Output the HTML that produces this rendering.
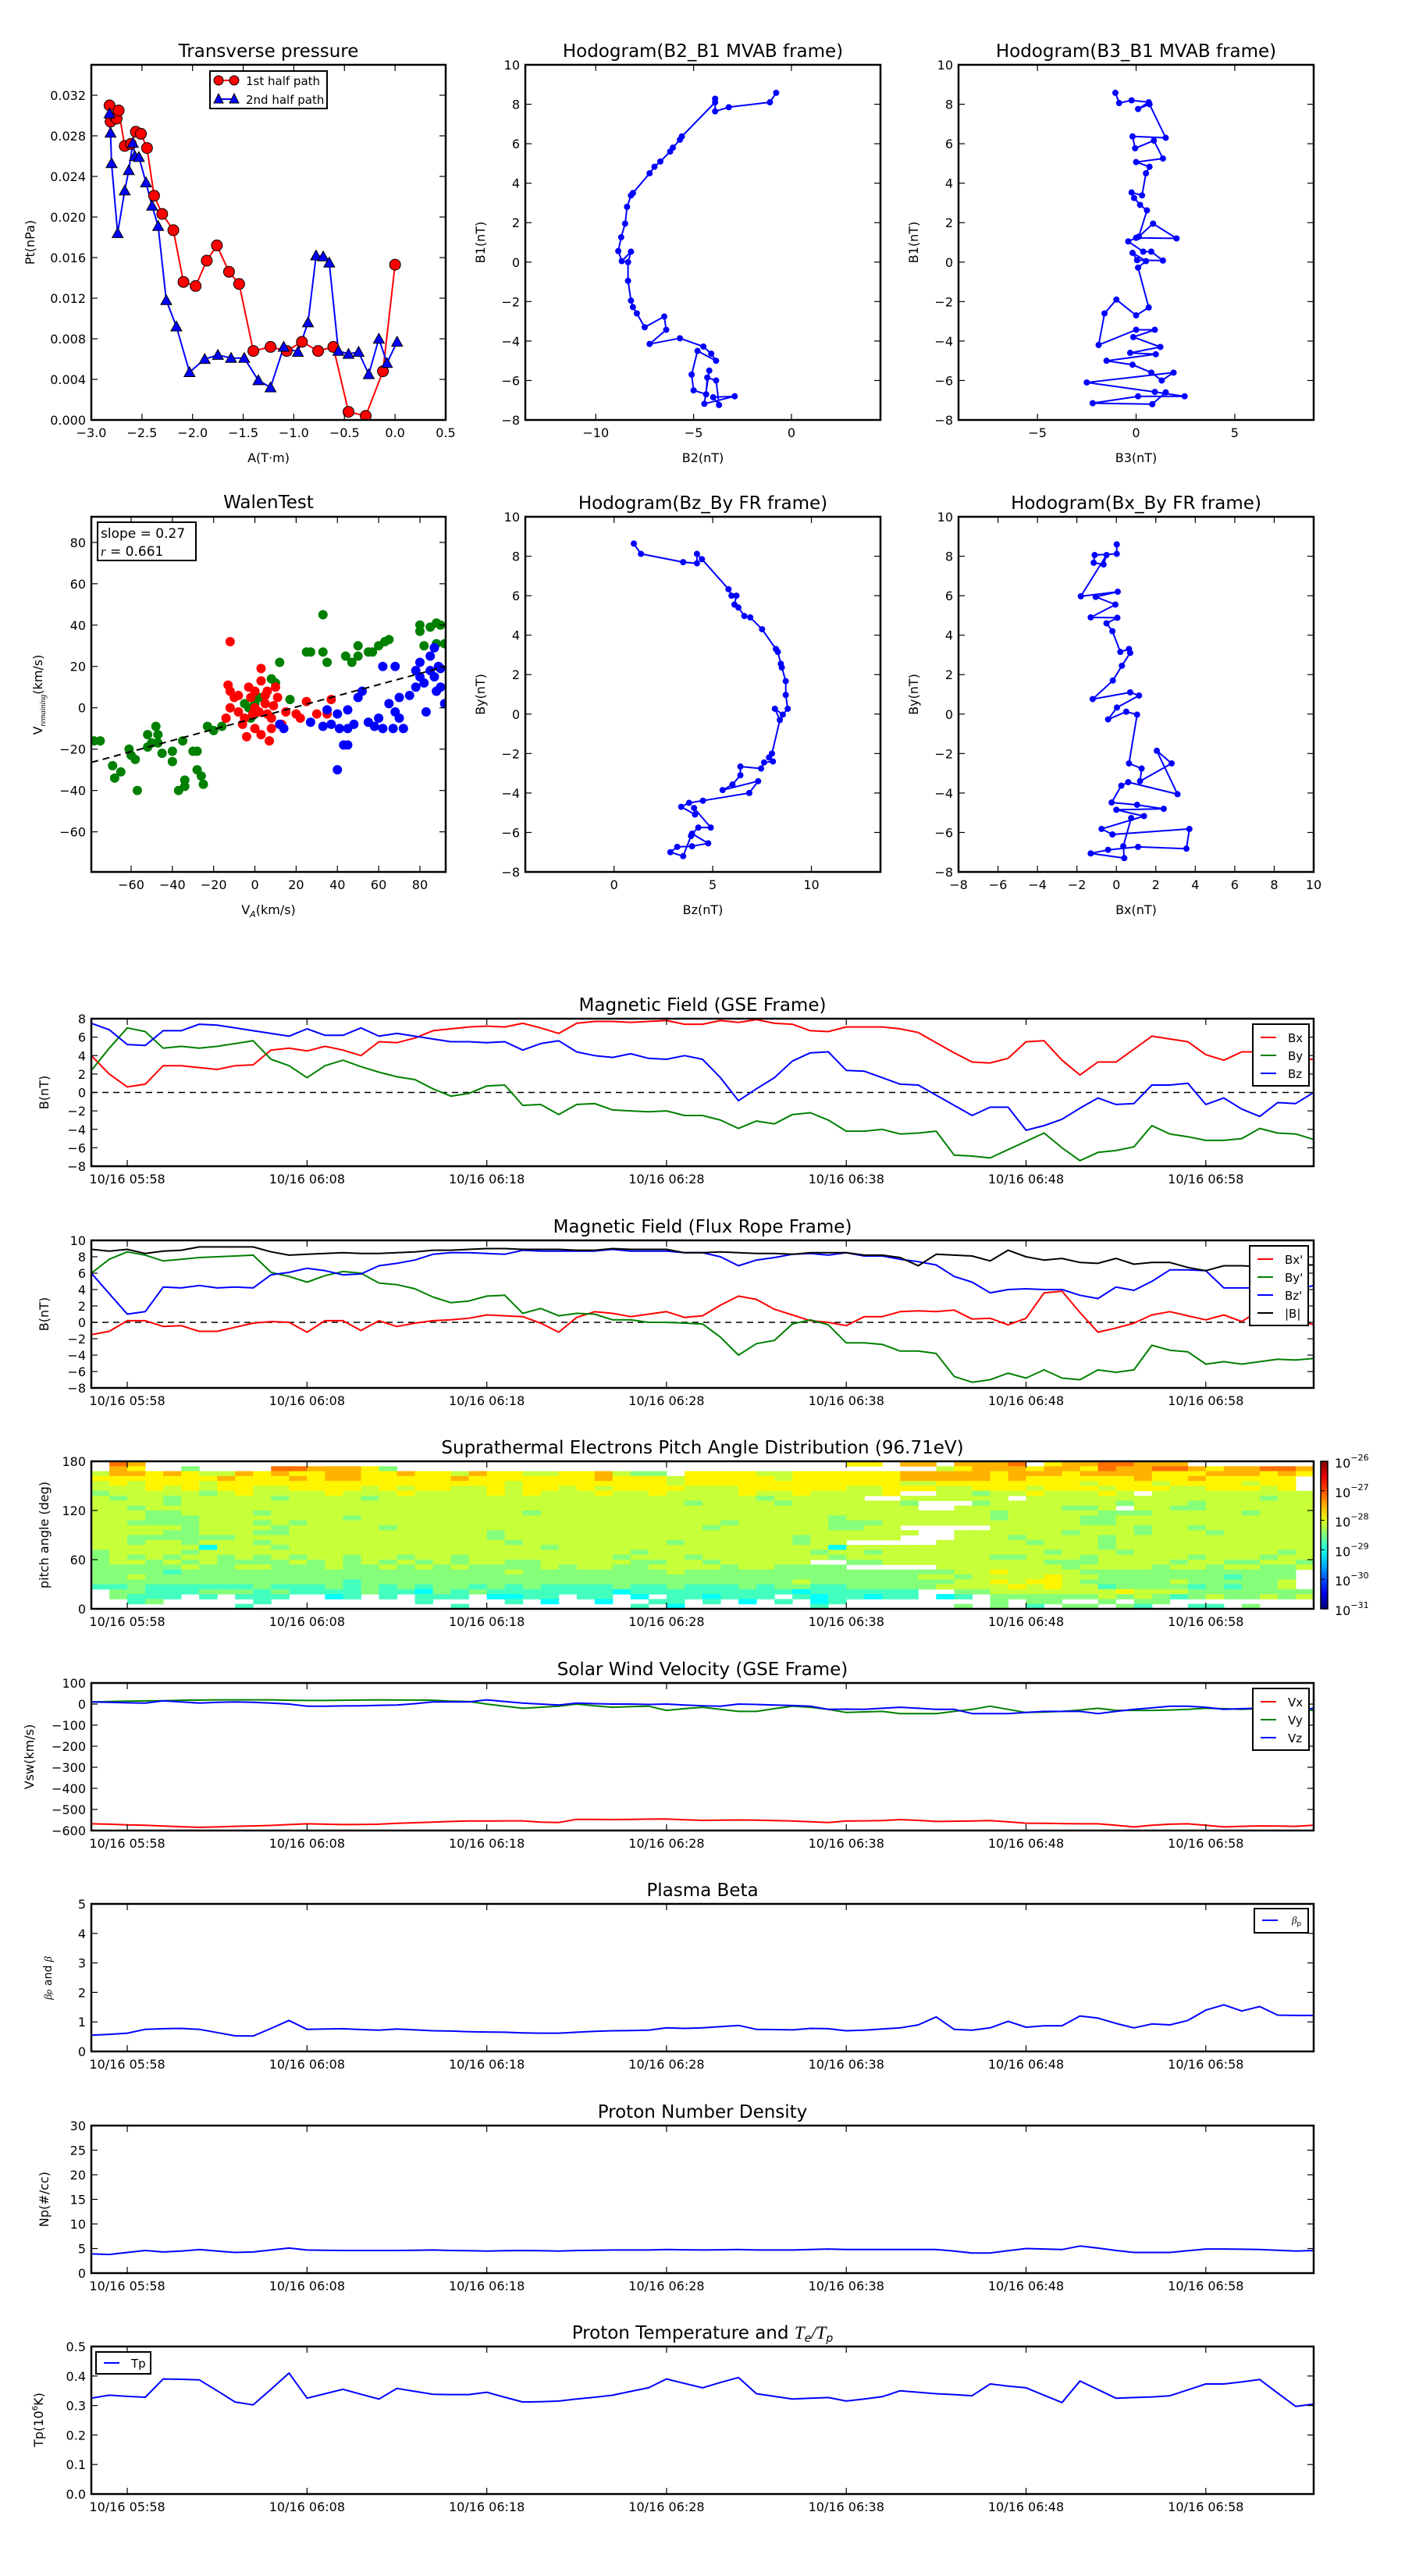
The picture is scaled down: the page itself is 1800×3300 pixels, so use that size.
<!DOCTYPE html>
<html><head><meta charset="utf-8"><title>Flux rope analysis</title>
<style>
html,body{margin:0;padding:0;background:#fff;}
svg{display:block;font-family:"DejaVu Sans","Liberation Sans",sans-serif;}
</style></head>
<body>
<svg id="fig" width="1800" height="3300" viewBox="0 0 1800 3300"></svg>
<script>
// ---------------- DATA ----------------
// Transverse pressure
const p1A = [-2.82,-2.81,-2.77,-2.75,-2.73,-2.67,-2.61,-2.56,-2.51,-2.45,-2.38,-2.30,-2.19,-2.09,-1.97,-1.86,-1.76,-1.64,-1.54,-1.40,-1.23,-1.07,-0.92,-0.76,-0.61,-0.46,-0.29,-0.12,0.00];
const p1P = [0.0310,0.0294,0.0299,0.0297,0.0305,0.0270,0.0272,0.0284,0.0282,0.0268,0.0221,0.0203,0.0187,0.0136,0.0132,0.0157,0.0172,0.0146,0.0134,0.0068,0.0072,0.0068,0.0077,0.0068,0.0072,0.0008,0.0004,0.0048,0.0153];
const p2A = [-2.82,-2.81,-2.80,-2.74,-2.67,-2.63,-2.59,-2.57,-2.53,-2.46,-2.40,-2.34,-2.26,-2.16,-2.03,-1.88,-1.75,-1.62,-1.49,-1.35,-1.23,-1.10,-0.96,-0.86,-0.78,-0.71,-0.65,-0.56,-0.46,-0.36,-0.26,-0.16,-0.08,0.02];
const p2P = [0.0302,0.0283,0.0253,0.0184,0.0226,0.0246,0.0273,0.0260,0.0259,0.0234,0.0211,0.0191,0.0118,0.0092,0.0047,0.0060,0.0064,0.0061,0.0061,0.0039,0.0032,0.0072,0.0067,0.0096,0.0162,0.0161,0.0155,0.0068,0.0065,0.0067,0.0045,0.0080,0.0056,0.0077];

// Hodogram B2_B1
const h1x = [-0.78,-1.1,-3.2,-3.9,-3.9,-3.9,-5.6,-5.7,-6.06,-6.2,-6.7,-7.0,-7.25,-8.1,-8.2,-8.4,-8.5,-8.7,-8.85,-8.67,-8.2,-8.35,-8.35,-8.2,-8.1,-7.9,-7.5,-6.5,-6.4,-7.25,-5.7,-4.5,-4.1,-3.85,-4.8,-5.1,-5.0,-4.36,-4.3,-3.85,-3.7,-4.0,-2.9,-4.45,-4.2];
const h1y = [8.58,8.1,7.85,7.64,8.28,8.1,6.37,6.2,5.8,5.6,5.1,4.83,4.5,3.5,3.38,2.8,1.95,1.26,0.56,0.05,0.53,0.0,-0.95,-1.95,-2.28,-2.6,-3.3,-2.76,-3.43,-4.15,-3.86,-4.28,-4.64,-5.0,-4.5,-5.7,-6.5,-6.7,-5.85,-6.0,-7.24,-6.85,-6.8,-7.18,-5.5];
// Hodogram B3_B1
const h2x = [-1.05,-0.86,-0.23,0.64,0.1,0.68,1.5,-0.18,-0.05,0.9,1.36,0,0.68,0.5,0.3,-0.23,-0.1,0.2,0.55,0.14,0.86,2.05,0,-0.4,0.36,0.77,1.36,0.05,-0.18,0.5,0.1,0.64,0,-1.0,-1.6,-1.9,0,0.95,-0.14,1.23,-0.3,1.0,-1.5,-0.18,0.77,1.3,1.9,-2.5,0.95,2.46,0.1,-2.2,0.82,1.5];
const h2y = [8.58,8.06,8.2,8.1,7.76,8.0,6.3,6.37,5.77,6.16,5.25,5.07,4.83,4.5,3.38,3.53,3.25,2.9,2.62,1.29,1.95,1.2,1.23,1.05,0.53,0.53,0.08,0.1,0.47,0.05,-0.28,-2.3,-2.7,-1.9,-2.6,-4.2,-3.43,-3.43,-3.8,-4.3,-4.6,-4.67,-5.0,-5.2,-5.6,-6.0,-5.6,-6.1,-6.58,-6.8,-6.8,-7.15,-7.2,-6.6];
// Hodogram Bz_By (FR)
const h3x = [1.0,1.36,3.5,4.2,4.2,4.45,5.8,5.95,6.2,6.1,6.3,6.6,6.9,7.5,8.2,8.3,8.45,8.5,8.7,8.7,8.8,8.55,8.15,8.4,8.0,7.85,8.05,7.6,7.45,6.4,6.4,6.0,5.5,7.3,6.85,4.5,3.8,3.4,4.1,4.05,4.9,4.27,3.95,4.77,3.95,3.2,2.85,3.5,3.9];
const h3y = [8.64,8.12,7.7,7.64,8.12,7.85,6.33,6.0,6.0,5.55,5.4,4.97,4.9,4.3,3.3,3.15,2.55,2.36,1.67,0.97,0.27,-0.03,0.27,-0.3,-2.0,-2.2,-2.4,-2.45,-2.76,-2.66,-3.1,-3.57,-3.85,-3.4,-4.0,-4.39,-4.5,-4.7,-5.09,-4.76,-5.75,-5.75,-6.06,-6.55,-6.7,-6.73,-7.0,-7.2,-6.18];
// Hodogram Bx_By (FR)
const h4x = [0.02,0.02,-1.1,-1.15,-0.65,-0.5,-1.8,0.07,-1.05,-0.05,-1.3,0.05,-0.5,-0.2,0.2,0.64,0.7,0.28,-0.18,-1.2,0.7,1.15,0.03,-0.42,0.5,1.05,0.64,1.28,1.2,2.8,2.05,3.1,0.6,0.25,-0.24,1.05,2.4,0,1.4,-0.75,-0.2,3.7,3.55,1.1,-0.42,-1.3,0.4,0.35,0.75];
const h4y = [8.6,8.12,8.06,7.67,7.58,8.06,5.97,6.2,5.94,5.55,4.9,4.88,4.6,4.2,3.15,3.3,3.1,2.45,1.7,0.76,1.1,0.94,0.33,-0.27,0.12,-0.03,-2.5,-2.76,-3.4,-2.5,-1.86,-4.06,-3.45,-3.63,-4.48,-4.6,-4.8,-4.85,-5.17,-5.82,-6.1,-5.82,-6.82,-6.73,-6.88,-7.06,-7.3,-6.7,-5.27];

// Walen test
const wGreenX = [-78,-75,-69,-68,-65,-61,-60,-58,-57,-52,-52,-50,-48,-47,-47,-45,-40,-40,-37,-35,-34,-34,-30,-28,-28,-26,-25,-23,-20,-16,-5,-3,-2,0,0,2,5,8,10,12,17,25,27,33,33,35,44,47,50,50,55,57,60,63,65,80,80,82,85,88,88,90,92];
const wGreenY = [-16,-16,-28,-34,-31,-20,-23,-25,-40,-19,-13,-17,-9,-17,-13,-22,-21,-26,-40,-16,-38,-35,-21,-21,-30,-33,-37,-9,-11,-9,2,0,-5,-3,2,5,6,14,12,22,4,27,27,27,45,22,25,22,30,25,27,27,30,32,33,40,37,30,39,41,31,40,31];
const wRedX = [-12,-13,-12,-10,-8,-8,-6,-5,-3,-1,0,2,3,3,5,5,6,6,7,8,10,11,13,15,20,22,25,30,35,37,-14,-4,0,3,8,9,-12,0,-2];
const wRedY = [32,11,8,5,6,-2,-8,-5,10,-3,0,-2,13,19,6,2,8,-3,-16,-5,10,5,-8,-2,-3,-5,3,-3,-3,4,-5,-14,-10,-13,-10,1,0,8,5];
const wBlueX = [12,14,27,33,35,37,40,40,41,43,45,45,45,48,50,52,55,58,60,62,65,67,68,68,70,72,75,78,78,80,80,82,83,85,85,87,87,88,89,90,90,92,62,70];
const wBlueY = [-8,-10,-7,-9,-1,-8,-3,-30,-10,-18,-18,-1,-10,-8,5,8,-7,-9,-5,-10,2,-10,-2,20,-5,-10,6,10,18,22,15,12,-2,18,25,15,29,8,20,10,19,2,20,5];
const walenSlope = 0.27;
const walenIntercept = -5;

// Time series: minute index from 05:56 (0..68)
const tMin = [0,1,2,3,4,5,6,7,8,9,10,11,12,13,14,15,16,17,18,19,20,21,22,23,24,25,26,27,28,29,30,31,32,33,34,35,36,37,38,39,40,41,42,43,44,45,46,47,48,49,50,51,52,53,54,55,56,57,58,59,60,61,62,63,64,65,66,67,68];
const timeTickMin = [2,12,22,32,42,52,62];
const timeTickLabels = ["10/16 05:58","10/16 06:08","10/16 06:18","10/16 06:28","10/16 06:38","10/16 06:48","10/16 06:58"];

// Magnetic field GSE
const gseBx = [4.0,2.0,0.6,0.9,2.9,2.9,2.7,2.5,2.9,3.0,4.6,4.8,4.5,5.0,4.6,4.0,5.5,5.4,5.9,6.7,6.9,7.1,7.2,7.1,7.5,7.0,6.4,7.5,7.7,7.7,7.6,7.7,7.8,7.4,7.4,7.8,7.6,7.9,7.5,7.4,6.7,6.6,7.1,7.1,7.1,6.9,6.5,5.4,4.3,3.3,3.2,3.7,5.5,5.6,3.5,1.9,3.3,3.3,4.7,6.1,5.8,5.5,4.1,3.5,4.4,4.4,4.0,3.6,3.6];
const gseBy = [2.4,4.8,7.0,6.6,4.8,5.0,4.8,5.0,5.3,5.6,3.6,2.9,1.6,2.9,3.5,2.8,2.2,1.7,1.4,0.4,-0.4,-0.1,0.7,0.8,-1.4,-1.3,-2.4,-1.3,-1.2,-1.9,-2.0,-2.1,-2.0,-2.5,-2.5,-3.0,-3.9,-3.1,-3.4,-2.4,-2.2,-3.0,-4.2,-4.2,-4.0,-4.5,-4.4,-4.2,-6.8,-6.9,-7.1,-6.2,-5.3,-4.4,-6.0,-7.4,-6.5,-6.3,-5.9,-3.6,-4.5,-4.8,-5.2,-5.2,-5.0,-3.9,-4.4,-4.5,-5.1];
const gseBz = [7.5,6.8,5.2,5.1,6.7,6.7,7.4,7.3,7.0,6.7,6.4,6.1,6.9,6.2,6.2,7.0,6.1,6.4,6.1,5.8,5.5,5.5,5.4,5.5,4.6,5.3,5.6,4.4,4.0,3.8,4.2,3.7,3.6,4.0,3.6,1.6,-0.9,0.4,1.6,3.4,4.3,4.4,2.4,2.3,1.6,0.9,0.8,-0.3,-1.4,-2.5,-1.6,-1.6,-4.1,-3.6,-2.9,-1.7,-0.6,-1.3,-1.2,0.8,0.8,1.0,-1.3,-0.6,-1.8,-2.6,-1.1,-1.2,0.0];

// Magnetic field flux rope frame
const frBx = [-1.5,-1.1,0.2,0.2,-0.5,-0.4,-1.1,-1.1,-0.6,-0.1,0.1,0.0,-1.2,0.2,0.2,-1.0,0.2,-0.5,-0.1,0.2,0.3,0.5,0.9,0.8,0.7,-0.1,-1.2,0.6,1.3,1.1,0.7,1.0,1.3,0.6,0.8,2.1,3.2,2.8,1.6,0.9,0.2,0.0,-0.4,0.7,0.7,1.3,1.4,1.3,1.5,0.4,0.5,-0.3,0.5,3.6,3.8,1.2,-1.2,-0.7,-0.1,0.9,1.3,0.8,0.3,0.9,0.1,1.5,2.3,0.4,-0.3];
const frBy = [6.0,7.7,8.6,8.2,7.5,7.7,7.9,8.0,8.1,8.2,6.1,5.6,4.9,5.7,6.2,6.0,4.8,4.6,4.1,3.1,2.4,2.6,3.2,3.3,1.1,1.7,0.8,1.1,1.0,0.3,0.3,0.0,0.0,-0.1,-0.2,-1.8,-4.0,-2.6,-2.2,-0.2,0.3,-0.3,-2.5,-2.5,-2.7,-3.5,-3.5,-3.8,-6.6,-7.3,-7.0,-6.2,-6.8,-5.8,-6.8,-7.0,-5.8,-6.1,-5.8,-2.8,-3.4,-3.6,-5.1,-4.8,-5.1,-4.8,-4.5,-4.6,-4.4];
const frBz = [6.0,3.5,1.0,1.3,4.3,4.2,4.5,4.2,4.3,4.2,5.8,6.1,6.6,6.3,5.8,5.9,6.9,7.2,7.6,8.3,8.5,8.5,8.4,8.3,8.8,8.7,8.7,8.7,8.7,8.9,8.7,8.7,8.7,8.5,8.5,8.0,6.9,7.6,7.9,8.3,8.4,8.2,8.5,8.1,8.1,7.7,7.4,7.0,5.6,4.9,3.6,4.0,4.1,4.0,4.0,3.3,2.9,4.3,3.9,5.0,6.4,6.4,6.3,4.2,4.2,4.2,3.8,4.0,4.5];
const frBt = [8.9,8.7,8.9,8.4,8.7,8.8,9.2,9.2,9.2,9.2,8.6,8.2,8.3,8.4,8.5,8.4,8.4,8.5,8.6,8.8,8.8,8.9,9.0,9.0,8.9,8.9,8.9,8.8,8.8,9.0,8.9,8.9,8.9,8.5,8.5,8.6,8.5,8.4,8.4,8.3,8.5,8.5,8.5,8.2,8.2,7.9,6.9,8.3,8.2,8.1,7.5,8.8,8.0,7.6,7.8,7.3,7.2,7.8,7.1,7.3,7.3,6.7,6.3,6.9,6.9,6.8,6.9,7.0,7.0];

// Pitch angle distribution: 30 rows (174-180 deg at top down to 0-6 deg), 68 minute columns.
// Digit = flux level code (0 low .. 9 high), '.' = no data
const padRows = [
".98.......................................77.88.8889.78899888.",
".87..5....9988875..............................6788878879889987889988989",
"68878766878778877877687766778655.777766777777888887888788887778887878",
"7777777877787887777787777777877767777767777778888878777777877877777",
"6767776777777777777777767777777767777777777776677777777677767777677",
"6667676776677776767766767767677776667777776677766777677767776677767",
"566666567666676667666676766676676666766766667..66566766676.666666666",
"6566566666566665666666666666666666666566666..666666.666666666666656665",
"666656666666666666666666666666666566665666666 5...566666665666566666666",
"6656666666666666666666666666666666666666666666..666666556.665566666665",
"6665566665666666666666665666666666666666666666666656666655566666566656",
"6665556666666656666666666666666666666666656666666656666556666666666666",
"6655556665656666666666666666666666656666655566666666666556666666666666",
"666665666656666656666666666666666656666665566.....66666666566566666666",
"6666556665566666666666566666666666666666666666..66666656665666566666656",
"665555556666666666666656666666666666666566666...66656666566666666666666",
"665665666566666666666665666666665666666566..... 666665666566666666666",
"6666663666566666666666666566666666666666636666666666666656666666666666",
"5666656666666666666666666666665666666666566566666666656665666666665666",
"5656566565656656656656666666656665666666656666666655666566666566656656",
"5665656555565656565656655666665566566666..55666666666555666656655665",
"5555565566555655656565555656655666656655 55.....6666666566665665665565",
"5555455555555555555555565555555565555555555555556676666555555555555",
"5565555555555555555555555555555555555555555555665666676655555554555",
"5555555555555545555555555555555555555556555555556676776555556555556",
"4454444445444545454554545444454454445455445555566667676645555454556",
".554445554544445443545444444434444444443444444..556666666766655555555",
".5444.4.444..34.4.444.3344.44.3.443444.4344344.34.555555656545655656",
"..45.....4........4....4.3..3..44.4.3.4.34........5.55..5.55........",
"........4...........4.........4.3.......4.......5.5.4.55.54..44.5."
];

// Solar wind velocity (km/s)
const vswVx = [-568,-570,-573,-575,-579,-582,-585,-583,-580,-578,-576,-572,-568,-570,-572,-571,-570,-566,-563,-560,-557,-555,-555,-554,-554,-560,-562,-547,-547,-548,-547,-546,-545,-549,-552,-551,-550,-551,-553,-555,-558,-562,-555,-554,-553,-548,-552,-557,-556,-555,-553,-559,-565,-566,-567,-568,-568,-575,-583,-575,-570,-568,-575,-583,-580,-578,-579,-580,-575];
const vswVy = [10,12,14,15,16,18,19,20,20,20,20,18,17,17,18,19,20,19,19,18,14,12,0,-10,-20,-15,-10,0,-8,-15,-12,-10,-30,-22,-15,-25,-35,-35,-22,-10,-15,-25,-40,-37,-35,-45,-45,-45,-35,-25,-10,-25,-40,-38,-35,-28,-20,-30,-30,-30,-28,-25,-20,-22,-25,-22,-20,-25,-30];
const vswVz = [10,8,6,5,15,10,5,8,10,8,5,0,-10,-10,-9,-8,-6,-5,2,10,10,10,20,12,5,0,-5,5,2,0,0,-2,0,-5,-8,-10,0,-2,-5,-7,-10,-25,-24,-25,-20,-15,-20,-25,-25,-45,-45,-45,-40,-35,-35,-35,-45,-35,-25,-18,-10,-10,-15,-25,-22,-20,-25,-30,-20];

// Plasma beta
const betaP = [0.55,0.58,0.62,0.75,0.77,0.78,0.75,0.64,0.53,0.52,0.78,1.05,0.75,0.76,0.77,0.74,0.72,0.76,0.73,0.7,0.69,0.67,0.66,0.65,0.63,0.62,0.62,0.65,0.68,0.70,0.71,0.72,0.8,0.78,0.8,0.84,0.88,0.75,0.74,0.73,0.78,0.77,0.7,0.72,0.76,0.8,0.9,1.17,0.75,0.72,0.8,1.02,0.82,0.87,0.87,1.2,1.13,0.95,0.8,0.93,0.9,1.05,1.4,1.58,1.37,1.52,1.23,1.22,1.22];
// Proton density
const npDens = [3.9,3.8,4.2,4.6,4.3,4.5,4.8,4.5,4.2,4.3,4.7,5.1,4.7,4.65,4.6,4.6,4.6,4.6,4.65,4.7,4.6,4.55,4.5,4.55,4.6,4.55,4.5,4.6,4.65,4.7,4.7,4.7,4.8,4.75,4.7,4.75,4.8,4.7,4.7,4.7,4.8,4.9,4.8,4.8,4.8,4.8,4.8,4.8,4.5,4.1,4.1,4.55,5.0,4.9,4.8,5.5,5.1,4.6,4.2,4.2,4.2,4.55,4.9,4.9,4.85,4.8,4.65,4.5,4.6];
// Proton temperature (1e6 K)
const tpTemp = [0.325,0.335,0.331,0.328,0.39,0.389,0.387,0.35,0.312,0.302,0.355,0.41,0.325,0.34,0.355,0.338,0.322,0.358,0.348,0.338,0.337,0.337,0.345,0.328,0.312,0.313,0.315,0.322,0.328,0.335,0.348,0.36,0.39,0.375,0.36,0.378,0.395,0.34,0.331,0.322,0.325,0.327,0.315,0.322,0.33,0.35,0.345,0.34,0.337,0.333,0.373,0.366,0.36,0.335,0.31,0.383,0.354,0.325,0.327,0.329,0.333,0.353,0.373,0.373,0.38,0.388,0.342,0.297,0.305];

// ---------------- DRAWING ----------------
const NS = 'http://www.w3.org/2000/svg';
const fig = document.getElementById('fig');
let clipCount = 0;
const MINUS = '\u2212';

function mk(tag, attrs, name, parent) {
  const e = document.createElementNS(NS, tag);
  for (const k in attrs) e.setAttribute(k, attrs[k]);
  
  
  (parent || fig).appendChild(e);
  return e;
}
function txt(x, y, s, size, anchor, name, parent, extra) {
  const a = Object.assign({x: x, y: y, 'font-size': size, 'text-anchor': anchor || 'middle', fill: '#000'}, extra || {});
  const t = mk('text', a, name, parent);
  t.textContent = s;
  return t;
}
function fmt(v, dec) {
  let s = Math.abs(v).toFixed(dec);
  if (v < -1e-12) s = MINUS + s;
  return s;
}

function axes(o) {
  const g = mk('g', {}, o.name);
  const sx = v => o.x + (v - o.xmin) / (o.xmax - o.xmin) * o.w;
  const sy = v => o.y + o.h - (v - o.ymin) / (o.ymax - o.ymin) * o.h;
  const id = 'clip' + (clipCount++);
  const defs = mk('defs', {}, 'defs', g);
  const cp = mk('clipPath', {id: id}, 'clip-region', defs);
  mk('rect', {x: o.x, y: o.y, width: o.w, height: o.h}, 'clip-rect', cp);
  const plot = mk('g', {'clip-path': 'url(#' + id + ')'}, 'plot-area', g);
  const deco = mk('g', {}, 'axes-decoration', g);
  const tl = 8;
  const fs = o.tickFont || 16;
  (o.xticks || []).forEach((v, i) => {
    const x = sx(v);
    mk('line', {x1: x, x2: x, y1: o.y + o.h, y2: o.y + o.h - tl, stroke: '#000', 'stroke-width': 1.2}, 'x-tick', deco);
    mk('line', {x1: x, x2: x, y1: o.y, y2: o.y + tl, stroke: '#000', 'stroke-width': 1.2}, 'x-tick-top', deco);
    const lab = o.xlabels ? o.xlabels[i] : fmt(v, o.xdec || 0);
    if (lab !== null) txt(x, o.y + o.h + 22, lab, fs, 'middle', 'x-tick-label', deco);
  });
  (o.yticks || []).forEach((v, i) => {
    const y = sy(v);
    mk('line', {x1: o.x, x2: o.x + tl, y1: y, y2: y, stroke: '#000', 'stroke-width': 1.2}, 'y-tick', deco);
    mk('line', {x1: o.x + o.w, x2: o.x + o.w - tl, y1: y, y2: y, stroke: '#000', 'stroke-width': 1.2}, 'y-tick-right', deco);
    const lab = o.ylabels ? o.ylabels[i] : fmt(v, o.ydec || 0);
    if (lab !== null) txt(o.x - 7, y + 6, lab, fs, 'end', 'y-tick-label', deco);
  });
  mk('rect', {x: o.x, y: o.y, width: o.w, height: o.h, fill: 'none', stroke: '#000', 'stroke-width': 2.5}, 'axes-frame', deco);
  if (o.title) txt(o.x + o.w / 2, o.titleY || (o.y - 10), o.title, 23, 'middle', 'chart-title', deco);
  if (o.xlabel) txt(o.x + o.w / 2, o.y + o.h + 54, o.xlabel, 16, 'middle', 'x-axis-title', deco);
  if (o.ylabel) {
    const yl = txt(o.ylabelX, o.y + o.h / 2, o.ylabel, 16, 'middle', 'y-axis-title', deco);
    yl.setAttribute('transform', 'rotate(-90 ' + o.ylabelX + ' ' + (o.y + o.h / 2) + ')');
  }
  return {g: g, plot: plot, deco: deco, sx: sx, sy: sy, o: o};
}
function polyline(ax, xs, ys, color, name, width, dash) {
  const pts = xs.map((x, i) => ax.sx(x).toFixed(1) + ',' + ax.sy(ys[i]).toFixed(1)).join(' ');
  const a = {points: pts, fill: 'none', stroke: color, 'stroke-width': width || 2, 'stroke-linejoin': 'round'};
  if (dash) a['stroke-dasharray'] = dash;
  return mk('polyline', a, name, ax.plot);
}
function dots(ax, xs, ys, color, r, name, edge) {
  xs.forEach((x, i) => {
    mk('circle', {cx: ax.sx(x), cy: ax.sy(ys[i]), r: r, fill: color, stroke: edge || 'none', 'stroke-width': 1}, name, ax.plot);
  });
}
function tris(ax, xs, ys, color, s, name) {
  xs.forEach((x, i) => {
    const cx = ax.sx(x), cy = ax.sy(ys[i]);
    mk('polygon', {points: (cx) + ',' + (cy - s) + ' ' + (cx - s) + ',' + (cy + s * 0.8) + ' ' + (cx + s) + ',' + (cy + s * 0.8), fill: color, stroke: '#000', 'stroke-width': 1}, name, ax.plot);
  });
}
function range(a, b, s) { const r = []; for (let v = a; v <= b + 1e-9; v += s) r.push(Math.round(v * 1e6) / 1e6); return r; }

// ----- Row 1 -----
const axP = axes({name: 'transverse-pressure-chart', x: 117, y: 83, w: 454, h: 455, xmin: -3, xmax: 0.5, ymin: 0, ymax: 0.035,
  xticks: range(-3, 0.5, 0.5), xdec: 1, yticks: range(0, 0.032, 0.004), ydec: 3,
  title: 'Transverse pressure', titleY: 73, xlabel: 'A(T\u00b7m)', ylabel: 'Pt(nPa)', ylabelX: 44});
polyline(axP, p1A, p1P, '#ff0000', 'first-half-path-line', 2);
polyline(axP, p2A, p2P, '#0000ff', 'second-half-path-line', 2);
dots(axP, p1A, p1P, '#ff0000', 7, 'first-half-point', '#000');
tris(axP, p2A, p2P, '#0000ff', 7, 'second-half-point');
const lgP = mk('g', {}, 'pressure-legend');
mk('rect', {x: 269, y: 91, width: 150, height: 48, fill: '#fff', stroke: '#000', 'stroke-width': 2}, 'legend-box', lgP);
mk('line', {x1: 280, x2: 300, y1: 103, y2: 103, stroke: '#f00', 'stroke-width': 2}, 'legend-line-1st', lgP);
mk('circle', {cx: 280, cy: 103, r: 6, fill: '#f00', stroke: '#000'}, 'legend-marker-1st', lgP);
mk('circle', {cx: 300, cy: 103, r: 6, fill: '#f00', stroke: '#000'}, 'legend-marker-1st', lgP);
txt(315, 109, '1st half path', 15, 'start', 'legend-label-1st', lgP);
mk('line', {x1: 280, x2: 300, y1: 127, y2: 127, stroke: '#00f', 'stroke-width': 2}, 'legend-line-2nd', lgP);
mk('polygon', {points: '280,120 274,132 286,132', fill: '#00f', stroke: '#000'}, 'legend-marker-2nd', lgP);
mk('polygon', {points: '300,120 294,132 306,132', fill: '#00f', stroke: '#000'}, 'legend-marker-2nd', lgP);
txt(315, 133, '2nd half path', 15, 'start', 'legend-label-2nd', lgP);

function hodo(name, x, y, xmin, xmax, xt, title, xl, yl, xs, ys) {
  const ax = axes({name: name, x: x, y: y, w: 455, h: 455, xmin: xmin, xmax: xmax, ymin: -8, ymax: 10,
    xticks: xt, yticks: range(-8, 10, 2), title: title, titleY: y - 10, xlabel: xl, ylabel: yl, ylabelX: x - 52});
  polyline(ax, xs, ys, '#0000ff', 'hodogram-path', 2);
  dots(ax, xs, ys, '#0000ff', 4, 'hodogram-point');
  return ax;
}
hodo('hodogram-b2-b1', 673, 83, -13.6, 4.55, [-10, -5, 0], 'Hodogram(B2_B1 MVAB frame)', 'B2(nT)', 'B1(nT)', h1x, h1y);
hodo('hodogram-b3-b1', 1228, 83, -9, 9, [-5, 0, 5], 'Hodogram(B3_B1 MVAB frame)', 'B3(nT)', 'B1(nT)', h2x, h2y);

// ----- Row 2 -----
const axW = axes({name: 'walen-test-chart', x: 117, y: 662, w: 454, h: 455, xmin: -79.3, xmax: 92.5, ymin: -79.4, ymax: 92.4,
  xticks: range(-60, 80, 20), yticks: range(-60, 80, 20), title: 'WalenTest', titleY: 651});
dots(axW, wGreenX, wGreenY, '#008000', 6, 'walen-point-green');
dots(axW, wRedX, wRedY, '#ff0000', 6, 'walen-point-red');
dots(axW, wBlueX, wBlueY, '#0000ff', 6, 'walen-point-blue');
const fitX = [-79.3, 92.5];
polyline(axW, fitX, fitX.map(v => walenSlope * v + walenIntercept), '#000', 'walen-fit-line', 2, '9,6');
{
  const d = axW.deco;
  const xl = txt(344, 1171, '', 16, 'middle', 'x-axis-title', d);
  xl.innerHTML = 'V<tspan font-size="11" font-style="italic" dy="4">A</tspan><tspan dy="-4">(km/s)</tspan>';
  const ylab = txt(54, 890, '', 16, 'middle', 'y-axis-title', d);
  ylab.innerHTML = 'V<tspan font-size="10" font-style="italic" font-family="Liberation Serif, serif" dy="4">remaining</tspan><tspan dy="-4">(km/s)</tspan>';
  ylab.setAttribute('transform', 'rotate(-90 54 890)');
  const lg = mk('g', {}, 'walen-legend', d);
  mk('rect', {x: 125, y: 669, width: 126, height: 49, fill: '#fff', stroke: '#000', 'stroke-width': 2}, 'legend-box', lg);
  txt(129, 689, 'slope = 0.27', 17, 'start', 'slope-label', lg);
  const rl = txt(129, 712, '', 17, 'start', 'correlation-label', lg);
  rl.innerHTML = '<tspan font-style="italic" font-family="Liberation Serif, serif">r</tspan> = 0.661';
}
hodo('hodogram-bz-by', 673, 662, -4.5, 13.5, [0, 5, 10], 'Hodogram(Bz_By FR frame)', 'Bz(nT)', 'By(nT)', h3x, h3y);
hodo('hodogram-bx-by', 1228, 662, -8, 10, range(-8, 10, 2), 'Hodogram(Bx_By FR frame)', 'Bx(nT)', 'By(nT)', h4x, h4y);

// ----- Time series -----
const TX = 117, TW = 1566, TH = 189;
function tpanel(name, top, ymin, ymax, yt, ydec, title, ylabel, ylabelX) {
  return axes({name: name, x: TX, y: top, w: TW, h: TH, xmin: 0, xmax: 68, ymin: ymin, ymax: ymax,
    xticks: timeTickMin, xlabels: timeTickLabels, yticks: yt, ydec: ydec, title: title, titleY: top - 10, ylabel: ylabel, ylabelX: ylabelX});
}
function legendBox(parent, x, y, w, items, name) {
  const g = mk('g', {}, name, parent);
  mk('rect', {x: x, y: y, width: w, height: items.length * 23 + 10, fill: '#fff', stroke: '#000', 'stroke-width': 2}, 'legend-box', g);
  items.forEach((it, i) => {
    const yy = y + 17 + i * 23;
    mk('line', {x1: x + 10, x2: x + 30, y1: yy, y2: yy, stroke: it[1], 'stroke-width': 2}, 'legend-swatch', g);
    const t = txt(x + 45, yy + 6, '', 15, 'start', 'legend-label', g);
    t.innerHTML = it[0];
  });
  return g;
}

const ax1 = tpanel('magnetic-field-gse-chart', 1305, -8, 8, range(-8, 8, 2), 0, 'Magnetic Field (GSE Frame)', 'B(nT)', 62);
polyline(ax1, [0, 68], [0, 0], '#000', 'zero-line', 1.5, '8,6');
polyline(ax1, tMin, gseBx, '#ff0000', 'bx-line', 2);
polyline(ax1, tMin, gseBy, '#008000', 'by-line', 2);
polyline(ax1, tMin, gseBz, '#0000ff', 'bz-line', 2);
legendBox(ax1.deco, 1605, 1312, 72, [['Bx', '#f00'], ['By', '#008000'], ['Bz', '#00f']], 'gse-legend');

const ax2 = tpanel('magnetic-field-flux-rope-chart', 1589, -8, 10, range(-8, 10, 2), 0, 'Magnetic Field (Flux Rope Frame)', 'B(nT)', 62);
polyline(ax2, [0, 68], [0, 0], '#000', 'zero-line', 1.5, '8,6');
polyline(ax2, tMin, frBx, '#ff0000', 'bx-prime-line', 2);
polyline(ax2, tMin, frBy, '#008000', 'by-prime-line', 2);
polyline(ax2, tMin, frBz, '#0000ff', 'bz-prime-line', 2);
polyline(ax2, tMin, frBt, '#000000', 'btotal-line', 2);
legendBox(ax2.deco, 1601, 1596, 75, [["Bx'", '#f00'], ["By'", '#008000'], ["Bz'", '#00f'], ['|B|', '#000']], 'flux-rope-legend');

function jet(v) {
  const c = x => Math.round(255 * Math.max(0, Math.min(1, x)));
  return 'rgb(' + c(1.5 - Math.abs(4 * v - 3)) + ',' + c(1.5 - Math.abs(4 * v - 2)) + ',' + c(1.5 - Math.abs(4 * v - 1)) + ')';
}
const ax3 = tpanel('pitch-angle-distribution-chart', 1872, 0, 180, [0, 60, 120, 180], 0, 'Suprathermal Electrons Pitch Angle Distribution (96.71eV)', 'pitch angle (deg)', 62);
padRows.forEach((row, ri) => {
  const s = row.replace(/ /g, '');
  const aTop = 180 - ri * 6;
  for (let ci = 0; ci < 68 && ci < s.length; ci++) {
    const ch = s[ci];
    if (ch === '.') continue;
    const d = parseInt(ch, 10);
    const x0 = ax3.sx(ci), x1 = ax3.sx(ci + 1);
    const y0 = ax3.sy(aTop), y1 = ax3.sy(aTop - 6);
    mk('rect', {x: x0, y: y0, width: x1 - x0 + 0.5, height: y1 - y0 + 0.5, fill: jet(0.18 + d * 0.065)}, 'pad-cell', ax3.plot);
  }
});
{
  const cb = mk('g', {}, 'colorbar', fig);
  const defs = mk('defs', {}, 'colorbar-defs', cb);
  const lg = mk('linearGradient', {id: 'jetgrad', x1: 0, y1: 1, x2: 0, y2: 0}, 'colorbar-gradient', defs);
  for (let i = 0; i <= 10; i++) mk('stop', {offset: (i / 10), 'stop-color': jet(i / 10)}, 'gradient-stop', lg);
  mk('rect', {x: 1692, y: 1872, width: 9, height: 189, fill: 'url(#jetgrad)', stroke: '#000', 'stroke-width': 1.5}, 'colorbar-bar', cb);
  for (let k = 0; k <= 5; k++) {
    const y = 1872 + k * 189 / 5;
    mk('line', {x1: 1692, x2: 1697, y1: y, y2: y, stroke: '#000', 'stroke-width': 1}, 'colorbar-tick', cb);
    const t = txt(1710, y + 8, '', 16, 'start', 'colorbar-label', cb);
    t.innerHTML = '10<tspan font-size="11" dy="-9">' + MINUS + (26 + k) + '</tspan>';
  }
}

const ax4 = tpanel('solar-wind-velocity-chart', 2156, -600, 100, range(-600, 100, 100), 0, 'Solar Wind Velocity (GSE Frame)', 'Vsw(km/s)', 43);
polyline(ax4, tMin, vswVx, '#ff0000', 'vx-line', 2);
polyline(ax4, tMin, vswVy, '#008000', 'vy-line', 2);
polyline(ax4, tMin, vswVz, '#0000ff', 'vz-line', 2);
legendBox(ax4.deco, 1605, 2163, 72, [['Vx', '#f00'], ['Vy', '#008000'], ['Vz', '#00f']], 'velocity-legend');

const ax5 = tpanel('plasma-beta-chart', 2439, 0, 5, range(0, 5, 1), 0, 'Plasma Beta', '', 62);
polyline(ax5, tMin, betaP, '#0000ff', 'beta-line', 2);
{
  const yl = txt(66, 2534, '', 14, 'middle', 'y-axis-title', ax5.deco);
  yl.innerHTML = '<tspan font-style="italic" font-family="Liberation Serif, serif">\u03b2</tspan><tspan font-size="10" font-style="italic">p</tspan> and <tspan font-style="italic" font-family="Liberation Serif, serif">\u03b2</tspan>';
  yl.setAttribute('transform', 'rotate(-90 66 2534)');
  const g = mk('g', {}, 'beta-legend', ax5.deco);
  mk('rect', {x: 1607, y: 2445, width: 69, height: 31, fill: '#fff', stroke: '#000', 'stroke-width': 2}, 'legend-box', g);
  mk('line', {x1: 1617, x2: 1637, y1: 2460, y2: 2460, stroke: '#00f', 'stroke-width': 2}, 'legend-swatch', g);
  const t = txt(1655, 2464, '', 13, 'start', 'legend-label', g);
  t.innerHTML = '<tspan font-style="italic" font-family="Liberation Serif, serif">\u03b2</tspan><tspan font-size="9" dy="3">p</tspan>';
}

const ax6 = tpanel('proton-density-chart', 2723, 0, 30, range(0, 30, 5), 0, 'Proton Number Density', 'Np(#/cc)', 62);
polyline(ax6, tMin, npDens, '#0000ff', 'density-line', 2);

const ax7 = tpanel('proton-temperature-chart', 3006, 0, 0.5, range(0, 0.5, 0.1), 1, '', '', 52);
polyline(ax7, tMin, tpTemp, '#0000ff', 'temperature-line', 2);
{
  const tt = txt(900, 2996, '', 23, 'middle', 'chart-title', ax7.deco);
  tt.innerHTML = 'Proton Temperature and <tspan font-style="italic" font-family="Liberation Serif, serif">T</tspan><tspan font-size="14" font-style="italic" dy="4">e</tspan><tspan dy="-4" font-family="Liberation Serif, serif" font-style="italic">/T</tspan><tspan font-size="14" font-style="italic" dy="4">p</tspan>';
  const yl = txt(55, 3100, '', 16, 'middle', 'y-axis-title', ax7.deco);
  yl.innerHTML = 'Tp(10<tspan font-size="10" dy="-7">6</tspan><tspan dy="7">K)</tspan>';
  yl.setAttribute('transform', 'rotate(-90 55 3100)');
  const g = mk('g', {}, 'temperature-legend', ax7.deco);
  mk('rect', {x: 123, y: 3013, width: 70, height: 28, fill: '#fff', stroke: '#000', 'stroke-width': 2}, 'legend-box', g);
  mk('line', {x1: 133, x2: 153, y1: 3027, y2: 3027, stroke: '#00f', 'stroke-width': 2}, 'legend-swatch', g);
  txt(168, 3033, 'Tp', 15, 'start', 'legend-label', g);
}
</script>
</body></html>
